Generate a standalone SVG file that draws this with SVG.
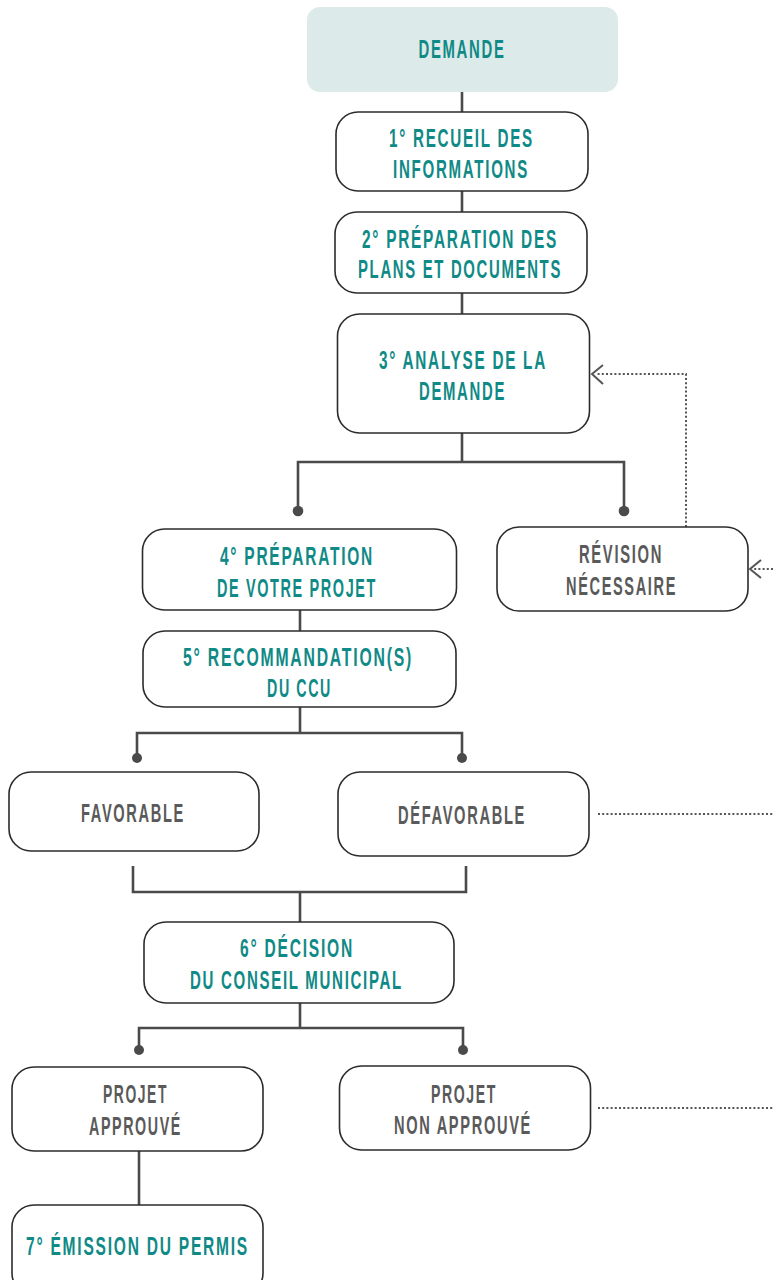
<svg xmlns="http://www.w3.org/2000/svg" width="773" height="1280" viewBox="0 0 773 1280">
<defs>
<style>
.box{fill:#fff;stroke:#2b2b2b;stroke-width:1.6}
.t{font-family:"Liberation Sans Narrow","Liberation Sans","DejaVu Sans",sans-serif;font-weight:bold;font-size:26.5px;text-anchor:middle;letter-spacing:3px}
.teal{fill:#108a86}
.grey{fill:#5a5a5a}
.ln{fill:none;stroke:#4a4a4a;stroke-width:2.6}
.dot{fill:#4a4a4a}
.dash{fill:none;stroke:#555;stroke-width:2;stroke-dasharray:2 2.2}
.arr{fill:none;stroke:#555;stroke-width:2}
</style>
</defs>
<rect width="773" height="1280" fill="#fff"/>
<g id="connectors">
<path class="ln" d="M462 92V112M462 191V212M462 293V314"/>
<path class="ln" d="M462 433V462M298 511V462H624V511"/>
<circle class="dot" cx="298" cy="511" r="5.3"/>
<circle class="dot" cx="624" cy="511" r="5.3"/>
<path class="ln" d="M300 610V631M300 707V733M137 758V733H462V758"/>
<circle class="dot" cx="137" cy="758" r="5"/>
<circle class="dot" cx="462" cy="758" r="5"/>
<path class="ln" d="M133 866V892H466V866M300 892V922"/>
<path class="ln" d="M300 1003V1028M139 1050V1028H463V1050"/>
<circle class="dot" cx="139" cy="1050" r="5"/>
<circle class="dot" cx="463" cy="1050" r="5"/>
<path class="ln" d="M139 1151V1205"/>
<path class="dash" d="M686 527V374H597"/>
<polyline class="arr" points="603,365 592,374 603,384"/>
<path class="dash" d="M773 569H753"/>
<polyline class="arr" points="761,560 750,569 761,578"/>
<path class="dash" d="M598 814H773"/>
<path class="dash" d="M598 1108H773"/>
</g>
<g id="demande">
<rect x="307" y="7" width="311" height="85" rx="13" fill="#dcebea"/>
<text class="t teal" x="462" y="58" textLength="87" lengthAdjust="spacingAndGlyphs">DEMANDE</text>
</g>
<g id="step1">
<rect class="box" x="336" y="112" width="252" height="79" rx="22"/>
<text class="t teal" x="461.5" y="146.5" textLength="145" lengthAdjust="spacingAndGlyphs">1° RECUEIL DES</text>
<text class="t teal" x="461" y="178" textLength="136" lengthAdjust="spacingAndGlyphs">INFORMATIONS</text>
</g>
<g id="step2">
<rect class="box" x="335" y="212" width="252" height="81" rx="22"/>
<text class="t teal" x="460" y="247.5" textLength="196" lengthAdjust="spacingAndGlyphs">2° PRÉPARATION DES</text>
<text class="t teal" x="460" y="278" textLength="204" lengthAdjust="spacingAndGlyphs">PLANS ET DOCUMENTS</text>
</g>
<g id="step3">
<rect class="box" x="337.5" y="314" width="252" height="119" rx="22"/>
<text class="t teal" x="463" y="369" textLength="168" lengthAdjust="spacingAndGlyphs">3° ANALYSE DE LA</text>
<text class="t teal" x="462.5" y="400" textLength="87" lengthAdjust="spacingAndGlyphs">DEMANDE</text>
</g>
<g id="revision">
<rect class="box" x="497" y="527" width="251" height="84" rx="22"/>
<text class="t grey" x="621" y="563" textLength="84" lengthAdjust="spacingAndGlyphs">RÉVISION</text>
<text class="t grey" x="621.5" y="595" textLength="111" lengthAdjust="spacingAndGlyphs">NÉCESSAIRE</text>
</g>
<g id="step4">
<rect class="box" x="142.5" y="529" width="314" height="81" rx="22"/>
<text class="t teal" x="297" y="565" textLength="154" lengthAdjust="spacingAndGlyphs">4° PRÉPARATION</text>
<text class="t teal" x="297" y="597" textLength="160" lengthAdjust="spacingAndGlyphs">DE VOTRE PROJET</text>
</g>
<g id="step5">
<rect class="box" x="143" y="631" width="313" height="76" rx="22"/>
<text class="t teal" x="298" y="666" textLength="230" lengthAdjust="spacingAndGlyphs">5° RECOMMANDATION(S)</text>
<text class="t teal" x="299.5" y="697" textLength="65" lengthAdjust="spacingAndGlyphs">DU CCU</text>
</g>
<g id="favorable">
<rect class="box" x="9" y="772" width="250" height="79" rx="22"/>
<text class="t grey" x="133" y="822" textLength="104" lengthAdjust="spacingAndGlyphs">FAVORABLE</text>
</g>
<g id="defavorable">
<rect class="box" x="338" y="772" width="251" height="84" rx="22"/>
<text class="t grey" x="462" y="824" textLength="128" lengthAdjust="spacingAndGlyphs">DÉFAVORABLE</text>
</g>
<g id="step6">
<rect class="box" x="144" y="922" width="310" height="81" rx="22"/>
<text class="t teal" x="297" y="957" textLength="114" lengthAdjust="spacingAndGlyphs">6° DÉCISION</text>
<text class="t teal" x="296.5" y="989" textLength="213" lengthAdjust="spacingAndGlyphs">DU CONSEIL MUNICIPAL</text>
</g>
<g id="approuve">
<rect class="box" x="12" y="1067" width="251" height="84" rx="22"/>
<text class="t grey" x="135.5" y="1103" textLength="65" lengthAdjust="spacingAndGlyphs">PROJET</text>
<text class="t grey" x="135.5" y="1135" textLength="93" lengthAdjust="spacingAndGlyphs">APPROUVÉ</text>
</g>
<g id="non-approuve">
<rect class="box" x="339.5" y="1066" width="251" height="84" rx="22"/>
<text class="t grey" x="464" y="1103" textLength="66" lengthAdjust="spacingAndGlyphs">PROJET</text>
<text class="t grey" x="463" y="1134" textLength="138" lengthAdjust="spacingAndGlyphs">NON APPROUVÉ</text>
</g>
<g id="step7">
<rect class="box" x="12" y="1205" width="251" height="90" rx="22"/>
<text class="t teal" x="137.5" y="1255" textLength="223" lengthAdjust="spacingAndGlyphs">7° ÉMISSION DU PERMIS</text>
</g>
</svg>
